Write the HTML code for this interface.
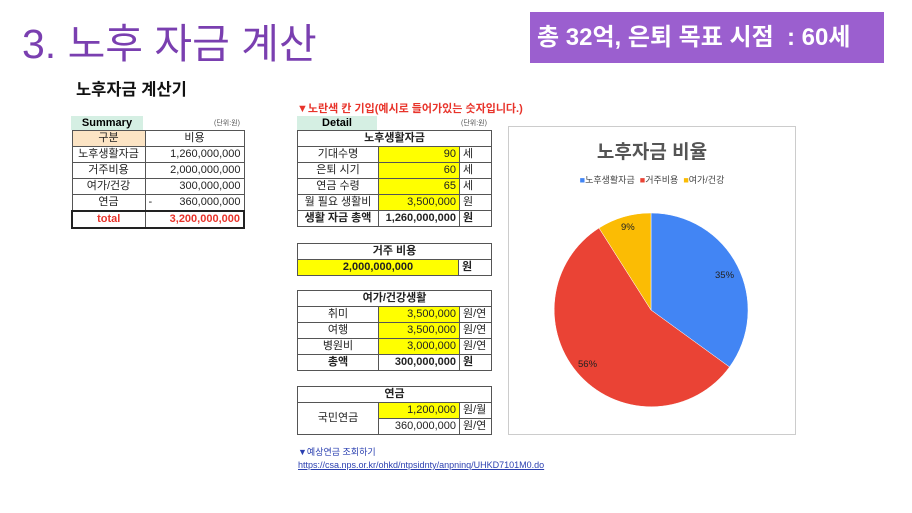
<!DOCTYPE html>
<html><head><meta charset="utf-8"><style>
body{margin:0;width:912px;height:513px;background:#fff;position:relative;overflow:hidden;font-family:"Liberation Sans","Noto Sans CJK KR",sans-serif;}
.a{position:absolute;}
table{position:absolute;border-collapse:collapse;font-size:11px;color:#222;}
td{border:1px solid #555;padding:0 3px;height:15px;line-height:15px;white-space:nowrap;}
.c{text-align:center}.r{text-align:right}.y{background:#ffff00}.b{font-weight:bold}
</style></head><body>
<div class="a" style="left:22px;top:10px;font-size:41px;color:#7a3fb0;font-weight:normal;">3. 노후 자금 계산</div>
<div class="a" style="left:530px;top:12px;width:354px;height:51px;background:#9b5fcf;"></div>
<div class="a" style="left:537px;top:12px;height:51px;color:#fff;font-size:24px;font-weight:bold;line-height:51px;white-space:nowrap;">총 32억, 은퇴 목표 시점 &nbsp;: 60세</div>
<div class="a" style="left:76px;top:76px;font-size:16.5px;font-weight:bold;color:#111;">노후자금 계산기</div>
<div class="a" style="left:297px;top:100px;font-size:11px;font-weight:bold;color:#e8332a;">▼노란색 칸 기입(예시로 들어가있는 숫자입니다.)</div>
<div class="a" style="left:71px;top:116px;width:72px;height:14px;background:#d5efe3;font-size:11px;font-weight:bold;text-align:center;line-height:14px;">Summary</div>
<div class="a" style="left:214px;top:118px;font-size:7px;color:#555;">(단위:원)</div>
<div class="a" style="left:297px;top:116px;width:80px;height:14px;background:#d5efe3;font-size:11px;font-weight:bold;text-align:center;line-height:14px;">Detail</div>
<div class="a" style="left:461px;top:118px;font-size:7px;color:#555;">(단위:원)</div>

<table style="left:71px;top:130px;width:174px;">
<tr><td class="c" style="width:66px;background:#fce4c4">구분</td><td class="c">비용</td></tr>
<tr><td class="c">노후생활자금</td><td class="r">1,260,000,000</td></tr>
<tr><td class="c">거주비용</td><td class="r">2,000,000,000</td></tr>
<tr><td class="c">여가/건강</td><td class="r">300,000,000</td></tr>
<tr><td class="c">연금</td><td class="r"><span style="float:left">-</span>360,000,000</td></tr>
<tr style="border:2px solid #222"><td class="c b" style="color:#e8332a">total</td><td class="r b" style="color:#e8332a">3,200,000,000</td></tr>
</table>

<table style="left:297px;top:130px;width:195px;">
<tr><td colspan="3" class="c b">노후생활자금</td></tr>
<tr><td class="c" style="width:74px">기대수명</td><td class="r y" style="width:74px">90</td><td>세</td></tr>
<tr><td class="c">은퇴 시기</td><td class="r y">60</td><td>세</td></tr>
<tr><td class="c">연금 수령</td><td class="r y">65</td><td>세</td></tr>
<tr><td class="c">월 필요 생활비</td><td class="r y">3,500,000</td><td>원</td></tr>
<tr><td class="c b">생활 자금 총액</td><td class="r b">1,260,000,000</td><td class="b">원</td></tr>
</table>

<table style="left:297px;top:243px;width:195px;">
<tr><td colspan="2" class="c b">거주 비용</td></tr>
<tr><td class="c y b" style="width:154px">2,000,000,000</td><td class="b">원</td></tr>
</table>

<table style="left:297px;top:290px;width:195px;">
<tr><td colspan="3" class="c b">여가/건강생활</td></tr>
<tr><td class="c" style="width:74px">취미</td><td class="r y" style="width:74px">3,500,000</td><td>원/연</td></tr>
<tr><td class="c">여행</td><td class="r y">3,500,000</td><td>원/연</td></tr>
<tr><td class="c">병원비</td><td class="r y">3,000,000</td><td>원/연</td></tr>
<tr><td class="c b">총액</td><td class="r b">300,000,000</td><td class="b">원</td></tr>
</table>

<table style="left:297px;top:386px;width:195px;">
<tr><td colspan="3" class="c b">연금</td></tr>
<tr><td class="c" rowspan="2" style="width:74px">국민연금</td><td class="r y" style="width:74px">1,200,000</td><td>원/월</td></tr>
<tr><td class="r">360,000,000</td><td>원/연</td></tr>
</table>

<div class="a" style="left:298px;top:445px;font-size:9px;color:#2a3fb0;">▼예상연금 조회하기</div>
<div class="a" style="left:298px;top:460px;font-size:9px;color:#2a3fb0;text-decoration:underline;">https://csa.nps.or.kr/ohkd/ntpsidnty/anpninq/UHKD7101M0.do</div>

<div class="a" style="left:508px;top:126px;width:286px;height:307px;border:1px solid #ccc;"></div>
<div class="a" style="left:508px;top:137px;width:288px;text-align:center;font-size:19px;font-weight:bold;color:#555;">노후자금 비율</div>
<div class="a" style="left:508px;top:173px;width:288px;text-align:center;font-size:9px;color:#444;"><span style="color:#4285f4">■</span>노후생활자금 &nbsp;<span style="color:#ea4335">■</span>거주비용 &nbsp;<span style="color:#fbbc04">■</span>여가/건강</div>
<svg class="a" style="left:0;top:0" width="912" height="513">
<path d="M651,310 L651,213 A97,97 0 0 1 729.5,367 Z" fill="#4285f4" stroke="#fff" stroke-width="0.5"/>
<path d="M651,310 L729.5,367 A97,97 0 1 1 599,228 Z" fill="#ea4335" stroke="#fff" stroke-width="0.5"/>
<path d="M651,310 L599,228 A97,97 0 0 1 651,213 Z" fill="#fbbc04" stroke="#fff" stroke-width="0.5"/>
<text x="715" y="278" font-size="9.5" fill="#222" font-family="Liberation Sans">35%</text>
<text x="578" y="367" font-size="9.5" fill="#222" font-family="Liberation Sans">56%</text>
<text x="621" y="230" font-size="9.5" fill="#222" font-family="Liberation Sans">9%</text>
</svg>
</body></html>
